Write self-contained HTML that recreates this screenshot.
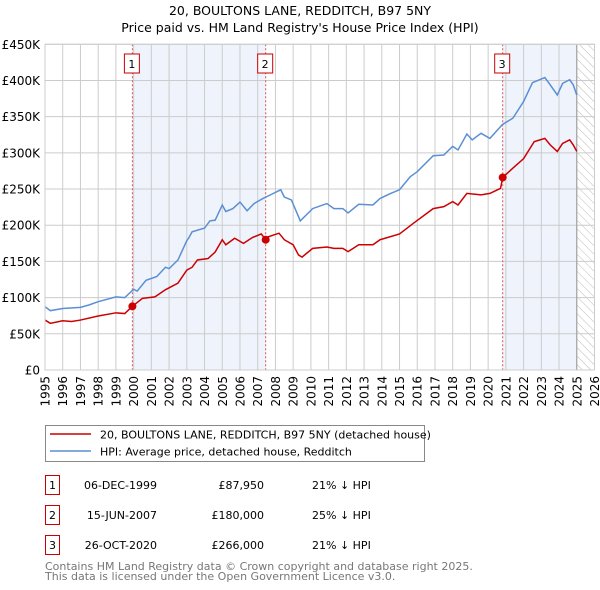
<!DOCTYPE html>
<html><head><meta charset="utf-8"><style>
body{margin:0;background:#fff;font-family:"DejaVu Sans","Liberation Sans",sans-serif;}
svg{display:block}
</style></head><body>
<svg id="c" width="600" height="590" xmlns="http://www.w3.org/2000/svg" font-family="DejaVu Sans, Liberation Sans, sans-serif"></svg>
<script>
const hpiYears=[1995.0,1995.3,1996,1997,1997.5,1998,1999,1999.5,2000,2000.2,2000.7,2001.3,2001.8,2002,2002.5,2003,2003.1,2003.3,2004,2004.3,2004.6,2005,2005.2,2005.6,2006,2006.4,2006.8,2007.3,2007.8,2008.3,2008.5,2008.9,2009.3,2009.4,2010.1,2010.9,2011.3,2011.8,2012.1,2012.7,2013.5,2013.9,2014.5,2015.0,2015.6,2016.0,2016.9,2017.5,2018.0,2018.3,2018.8,2019.1,2019.6,2020.1,2020.8,2021.4,2022.0,2022.5,2023.2,2023.5,2023.9,2024.2,2024.6,2024.8,2025.0];
const hpiValues=[87.5,82,85,86.6,90,94.4,101,100,111.5,109,124,129,142,140,152,178.7,182,191,196,206,207,228,219,223,232,220,230,237,243,249,239,235,212,206,223,230,223,223,217,229,228,237,244,249,267,274,296,297,309,304,326,318,327,320,339,348,371,397,404,394,380,396,401,394,380];
const ppYears=[1995.0,1995.3,1996,1996.5,1997,1998,1999,1999.5,1999.93,2000.5,2001.2,2001.8,2002.5,2003,2003.3,2003.6,2004.2,2004.6,2005,2005.2,2005.7,2006.2,2006.7,2007.2,2007.45,2007.6,2008.2,2008.5,2009.0,2009.3,2009.5,2010.1,2010.9,2011.3,2011.8,2012.1,2012.7,2013.5,2013.9,2015.0,2015.8,2016.9,2017.5,2018.0,2018.3,2018.8,2019.6,2020.1,2020.7,2020.82,2021.4,2022.0,2022.6,2023.2,2023.5,2023.9,2024.2,2024.6,2024.8,2025.0];
const ppValues=[69,64.5,68,67,69,74.6,79,78,88,99,101,111,120,138,142,152,154,163,180,173,182,175,183,188,180,184,189,180,173,159,156,168,170,168,168,163.5,173,173,180,188,203,223,225.7,232.6,228,244,242,244,251,266,279,292,315.5,320,311,302,313,318,311,302];
const saleYears=[1999.93,2007.45,2020.82];
const saleValues=[87.95,180,266];
const saleLabels=["1","2","3"];
const yTicks=[0,50,100,150,200,250,300,350,400,450];
const yTickLabels=["£0","£50K","£100K","£150K","£200K","£250K","£300K","£350K","£400K","£450K"];
const xYears=[1995,1996,1997,1998,1999,2000,2001,2002,2003,2004,2005,2006,2007,2008,2009,2010,2011,2012,2013,2014,2015,2016,2017,2018,2019,2020,2021,2022,2023,2024,2025,2026];
const tableDates=["06-DEC-1999","15-JUN-2007","26-OCT-2020"];
const tablePrices=["£87,950","£180,000","£266,000"];
const tableHpi=["21% ↓ HPI","25% ↓ HPI","21% ↓ HPI"];

const L=45,R=594.5,T=44.3,B=370;
const X=y=>L+(y-1995)*(R-L)/31;
const Y=v=>B-v*(B-T)/450;
const svg=document.getElementById('c');
const NS='http://www.w3.org/2000/svg';
function mk(tag,attrs,parent){const e=document.createElementNS(NS,tag);for(const k in attrs)e.setAttribute(k,attrs[k]);(parent||svg).appendChild(e);return e;}

const defs=mk('defs',{});
const pat=mk('pattern',{id:'hatch',width:'6',height:'6',patternUnits:'userSpaceOnUse',patternTransform:'rotate(-45)'},defs);
mk('line',{x1:0,y1:0,x2:0,y2:6,stroke:'#bbb','stroke-width':1},pat);

let t=mk('text',{x:300,y:15,'text-anchor':'middle','font-size':12.5,fill:'#000'});
t.textContent='20, BOULTONS LANE, REDDITCH, B97 5NY';


t=mk('text',{x:300,y:32,'text-anchor':'middle','font-size':12.5,fill:'#000'});
t.textContent="Price paid vs. HM Land Registry's House Price Index (HPI)";



let r=mk('rect',{x:X(saleYears[0]),y:T,width:X(saleYears[1])-X(saleYears[0]),height:B-T,fill:'#eef3fc'});


r=mk('rect',{x:X(saleYears[2]),y:T,width:X(2025)-X(saleYears[2]),height:B-T,fill:'#eef3fc'});


r=mk('rect',{x:X(2025),y:T,width:R-X(2025),height:B-T,fill:'url(#hatch)'});



yTicks.forEach((v,i)=>{
  const g=mk('line',{x1:L,x2:R,y1:Y(v),y2:Y(v),stroke:'#ccc','stroke-width':1});
  
  
  const tx=mk('text',{x:40,y:Y(v)+4.5,'text-anchor':'end','font-size':12,fill:'#000'});
  tx.textContent=yTickLabels[i];
  
  
});
xYears.forEach(yr=>{
  const g=mk('line',{x1:X(yr),x2:X(yr),y1:T,y2:B,stroke:'#ccc','stroke-width':1});
  
  
  const tx=mk('text',{x:0,y:0,'text-anchor':'end','font-size':12,fill:'#000',transform:`translate(${X(yr)+4.5},376) rotate(-90)`});
  tx.textContent=yr;
  
  
});
const endLine=mk('line',{x1:X(2025),x2:X(2025),y1:T,y2:B,stroke:'#999','stroke-width':1});



saleYears.forEach((yr,i)=>{
  const l=mk('line',{x1:X(yr),x2:X(yr),y1:T,y2:B,stroke:'#e05050','stroke-width':1,'stroke-dasharray':'2,2'});
  
  
  const bx=mk('rect',{x:X(yr)-8,y:54,width:15,height:19,fill:'#fff',stroke:'#c00','stroke-width':1});
  
  
  const tx=mk('text',{x:X(yr)-0.5,y:68,'text-anchor':'middle','font-size':11,fill:'#000'});
  tx.textContent=saleLabels[i];
  
  
});

const hp=mk('polyline',{points:hpiYears.map((y,i)=>X(y)+','+Y(hpiValues[i])).join(' '),fill:'none',stroke:'#5b8fd4','stroke-width':1.5});


const pp=mk('polyline',{points:ppYears.map((y,i)=>X(y)+','+Y(ppValues[i])).join(' '),fill:'none',stroke:'#cc0000','stroke-width':1.5});


saleYears.forEach((yr,i)=>{
  const c=mk('circle',{cx:X(yr),cy:Y(saleValues[i]),r:4,fill:'#cc0000'});
  
  
});
const frame=mk('rect',{x:L,y:T,width:R-L,height:B-T,fill:'none',stroke:'#ccc'});



const lg=mk('g',{});


mk('rect',{x:45.5,y:425.5,width:379,height:36,fill:'#fff',stroke:'#888'},lg);
let le=mk('line',{x1:50,x2:91,y1:434,y2:434,stroke:'#cc0000','stroke-width':1.5},lg);


t=mk('text',{x:100,y:438.5,'font-size':11,fill:'#000'},lg);t.textContent='20, BOULTONS LANE, REDDITCH, B97 5NY (detached house)';


le=mk('line',{x1:50,x2:91,y1:451,y2:451,stroke:'#5b8fd4','stroke-width':1.5},lg);


t=mk('text',{x:100,y:455.5,'font-size':11,fill:'#000'},lg);t.textContent='HPI: Average price, detached house, Redditch';



saleLabels.forEach((s,i)=>{
  const yy=483+i*30;
  const g=mk('g',{});
  
  
  mk('rect',{x:45.5,y:yy-7.5,width:14,height:19,fill:'#fff',stroke:'#c00'},g);
  let a=mk('text',{x:52.5,y:yy+6,'text-anchor':'middle','font-size':11},g);a.textContent=s;
  a=mk('text',{x:157,y:yy+6,'text-anchor':'end','font-size':11},g);a.textContent=tableDates[i];
  a=mk('text',{x:264,y:yy+6,'text-anchor':'end','font-size':11},g);a.textContent=tablePrices[i];
  a=mk('text',{x:312,y:yy+6,'font-size':11},g);a.textContent=tableHpi[i];
});
t=mk('text',{x:45,y:570,'font-size':11,fill:'#777'});t.textContent='Contains HM Land Registry data © Crown copyright and database right 2025.';


t=mk('text',{x:45,y:580,'font-size':11,fill:'#777'});t.textContent='This data is licensed under the Open Government Licence v3.0.';


</script>
</body></html>
